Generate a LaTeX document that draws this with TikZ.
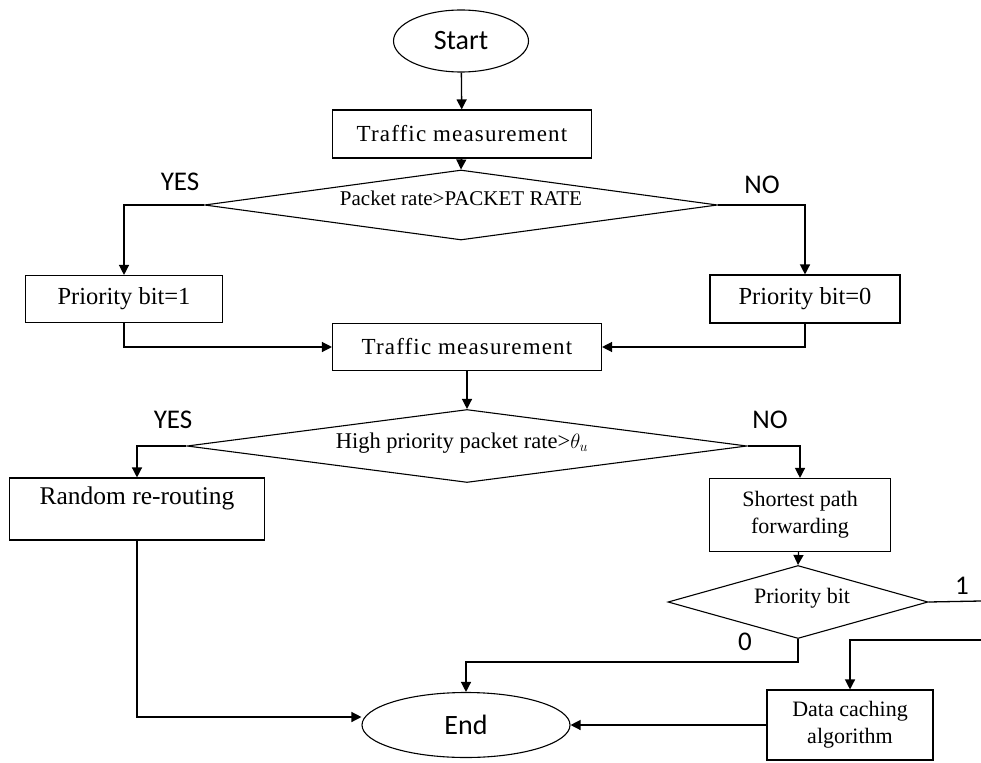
\documentclass[tikz,border=0pt]{standalone}
\usepackage{fontspec}
\setmainfont{Liberation Serif}
\newfontfamily\labelfont{Carlito}
\usetikzlibrary{shapes.geometric,arrows.meta}

\tikzset{
  flow/.style={line width=1.3pt, -{Triangle[width=10pt,length=10pt]}},
  link/.style={line width=1.3pt},
  procbox/.style={draw, line width=1.1pt, rectangle, inner sep=0pt, font=\fontsize{22}{27}\selectfont, align=center},
  bigtext/.style={font=\fontsize{24.5}{28}\selectfont},
  decision/.style={draw, line width=1.1pt, diamond, inner sep=0pt},
  terminal/.style={draw, line width=1.1pt, ellipse, inner sep=0pt, font=\labelfont\fontsize{28}{32}\selectfont},
  branch/.style={font=\labelfont\fontsize{27}{30}\selectfont}
}

\begin{document}
\begin{tikzpicture}[x=1pt, y=-1pt]
  \useasboundingbox (0,0) rectangle (981,762);

  % terminals
  \node[terminal, minimum width=135pt, minimum height=62pt] (start) at (461,41) {Start};
  \node[terminal, minimum width=208pt, minimum height=65pt] (end) at (466,725) {End};

  % first stage
  \node[procbox, font=\fontsize{23}{27}\selectfont, minimum width=259pt, minimum height=48pt] (tm1) at (462,134) {\addfontfeature{LetterSpace=5}Traffic measurement};
  \node[decision, minimum width=513pt, minimum height=70pt] (dec1) at (461,205) {};
  \node[font=\fontsize{21}{24}\selectfont] (dec1txt) at (461,198) {Packet rate>PACKET RATE};
  \node[procbox, bigtext, minimum width=197pt, minimum height=47pt] (pb1) at (124,299) {Priority bit=1};
  \node[procbox, bigtext, minimum width=190pt, minimum height=48pt] (pb0) at (805,299) {Priority bit=0};
  \node[branch] (yes1) at (180,182) {YES};
  \node[branch] (no1) at (762,185) {NO};

  % second stage
  \node[procbox, font=\fontsize{23}{27}\selectfont, minimum width=269pt, minimum height=47pt] (tm2) at (467,347) {\addfontfeature{LetterSpace=5}Traffic measurement};
  \node[decision, minimum width=560pt, minimum height=73pt] (dec2) at (467,446) {};
  \node[font=\fontsize{22.5}{26}\selectfont] (dec2txt) at (462,443) {High priority packet rate>$\theta_{u}$};
  \node[procbox, font=\fontsize{25.5}{30}\selectfont, minimum width=255pt, minimum height=62pt] (rand) at (137,509) {Random re-routing\\[-12pt] \strut};
  \node[procbox, minimum width=181pt, minimum height=73pt] (short) at (800,515) {Shortest path\\ forwarding};
  \node[branch] (yes2) at (173,420) {YES};
  \node[branch] (no2) at (770,420) {NO};

  % third stage
  \node[decision, minimum width=260pt, minimum height=73pt] (dec3) at (798,602) {};
  \node[font=\fontsize{22}{26}\selectfont] (dec3txt) at (802,598) {Priority bit};
  \node[procbox, minimum width=166pt, minimum height=70pt] (cache) at (850,725) {Data caching\\ algorithm};
  \node[branch] (one) at (962,586) {1};
  \node[branch] (zero) at (745,642) {0};
  \coordinate (out1) at (981,601);
  \coordinate (in1) at (981,640);

  % connectors
  \draw[flow] (start) -- (tm1);
  \draw[flow] (tm1) -- (dec1.north);
  \draw[flow] (dec1.west) -| (pb1.north);
  \draw[flow] (dec1.east) -| (pb0.north);
  \draw[flow] (pb1.south) |- (tm2.west);
  \draw[flow] (pb0.south) |- (tm2.east);
  \draw[flow] (tm2) -- (dec2.north);
  \draw[flow] (dec2.west) -| (rand.north);
  \draw[flow] (dec2.east) -| (short.north);
  \draw[flow] (short) -- (dec3.north);
  \draw[link] (dec3.east) -- (out1);
  \draw[flow] (in1) -| (cache.north);
  \draw[flow] (dec3.south) -- ++(0,23) -| (end.north);
  \draw[flow] (rand.south) |- ([yshift=8pt]end.west);
  \draw[flow] (cache.west) -- (end.east);
\end{tikzpicture}
\end{document}
